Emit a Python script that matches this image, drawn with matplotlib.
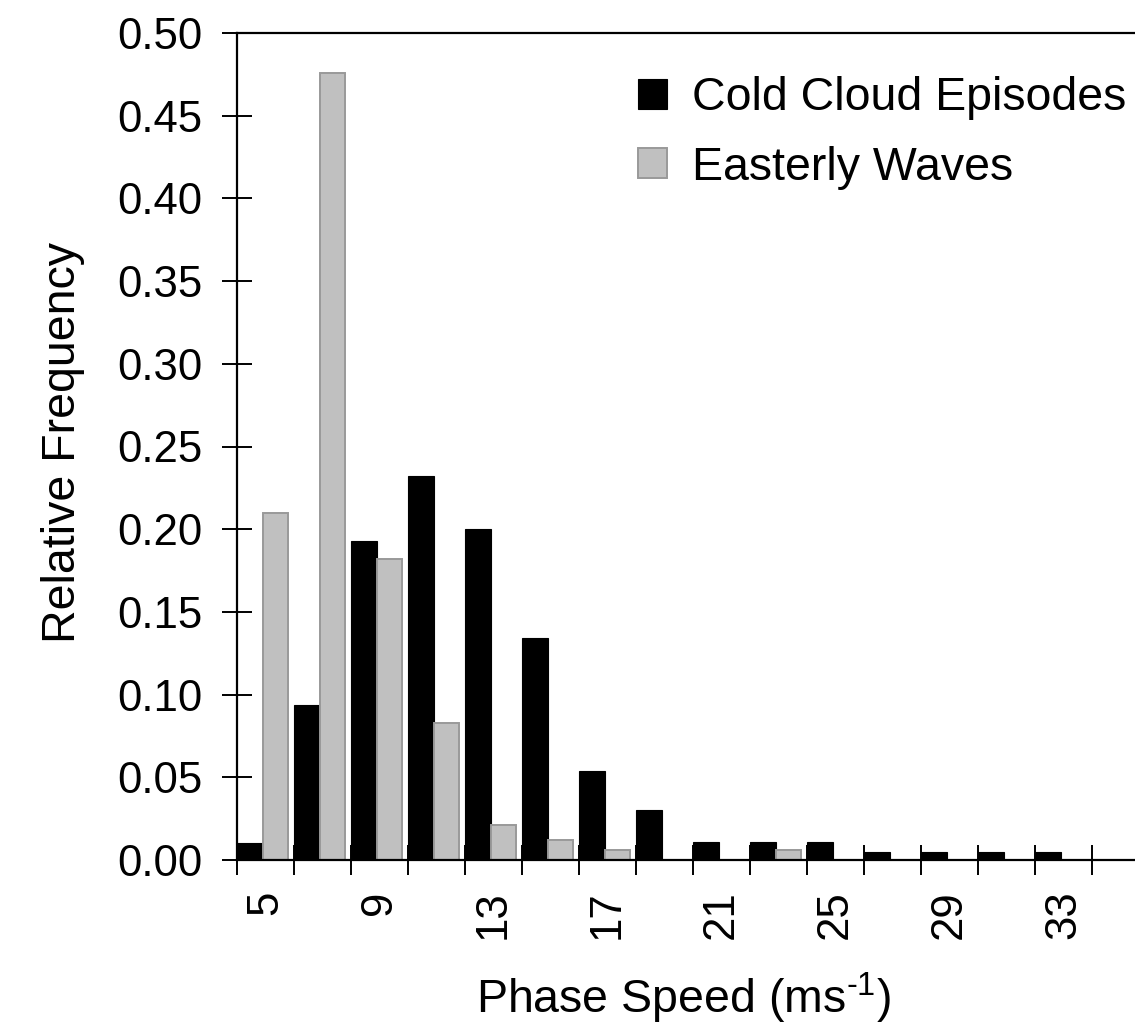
import matplotlib
matplotlib.use("Agg")
import matplotlib.pyplot as plt
import numpy as np

speeds = [5, 7, 9, 11, 13, 15, 17, 19, 21, 23, 25, 27, 29, 31, 33]
cold_cloud = [0.010, 0.094, 0.193, 0.232, 0.200, 0.134, 0.054, 0.030,
              0.011, 0.011, 0.011, 0.005, 0.005, 0.005, 0.005]
easterly = [0.210, 0.476, 0.182, 0.083, 0.021, 0.012, 0.006, 0.0,
            0.0, 0.006, 0.0, 0.0, 0.0, 0.0, 0.0]
y_ticks = [0.00, 0.05, 0.10, 0.15, 0.20, 0.25, 0.30, 0.35, 0.40, 0.45, 0.50]
series_names = ["Cold Cloud Episodes", "Easterly Waves"]

plt.rcParams['font.family'] = ['Liberation Sans', 'DejaVu Sans']
plt.rcParams['mathtext.fontset'] = 'custom'
plt.rcParams['mathtext.rm'] = 'Liberation Sans'
plt.rcParams['mathtext.default'] = 'regular'

W, H = 1135, 1030
fig = plt.figure(figsize=(W / 100, H / 100), dpi=100)
left_px, top_px, bot_px, cat_px = 237, 33, 860, 57
ncat_view = 16
ax = fig.add_axes([left_px / W, 1 - bot_px / H,
                   cat_px * ncat_view / W, (bot_px - top_px) / H])

idx = np.arange(len(speeds))
bw = 0.45
ax.bar(idx, cold_cloud, width=bw, align='edge', color='black',
       edgecolor='black', linewidth=0.8, label=series_names[0], zorder=2)
ax.bar(idx + bw + 0.01, easterly, width=0.43, align='edge', color='#c0c0c0',
       edgecolor='#999999', linewidth=1.4, label=series_names[1], zorder=2)

ax.set_xlim(0, ncat_view)
ax.set_ylim(0, 0.5)

fs = 31.5
fs_lab = 33.5
# category boundaries carry the tick marks; category centres carry the labels
ax.set_xticks(np.arange(0, len(speeds) + 1))
ax.set_xticklabels([])
ax.set_xticks(idx + 0.5, minor=True)
ax.set_xticklabels([str(s) if i % 2 == 0 else '' for i, s in enumerate(speeds)],
                   minor=True, rotation=90, fontsize=fs)
ax.tick_params(axis='x', which='major', direction='inout', length=22, width=1.4)
ax.tick_params(axis='x', which='minor', length=0, pad=22)

ax.set_yticks(y_ticks)
ax.set_yticklabels([f"{v:.2f}" for v in y_ticks], fontsize=fs)
ax.tick_params(axis='y', direction='inout', length=22, width=1.4, pad=14)

for s in ['left', 'top', 'bottom']:
    ax.spines[s].set_linewidth(1.6)
ax.spines['right'].set_visible(False)

fig.text(63 / W, 1 - 443 / H, "Relative Frequency", rotation=90,
         ha='center', va='center', fontsize=fs_lab)
fig.text(683 / W, 1 - 1013 / H, r"Phase Speed (ms$^{\text{-1}}$)",
         ha='center', va='baseline', fontsize=fs_lab)

leg = ax.legend(loc='upper left', bbox_to_anchor=(638 / W, 1 - 76 / H),
                bbox_transform=fig.transFigure, frameon=False, fontsize=fs_lab,
                handlelength=0.62, handleheight=0.62, handletextpad=0.55,
                labelspacing=0.55, borderpad=0, borderaxespad=0)

fig.savefig("out.png", dpi=100)
